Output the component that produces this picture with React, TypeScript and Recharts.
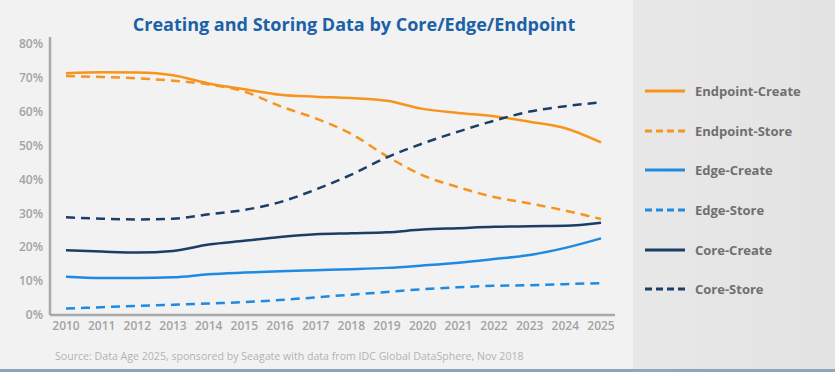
import { LineChart, Line, XAxis, YAxis } from "recharts";

const years = [
  "2010", "2011", "2012", "2013", "2014", "2015", "2016", "2017",
  "2018", "2019", "2020", "2021", "2022", "2023", "2024", "2025",
];

const endpointCreate = [71.3, 71.6, 71.5, 70.7, 68.3, 66.6, 65.0, 64.4, 64.0, 63.2, 60.8, 59.6, 58.6, 57.0, 55.1, 50.9];
const endpointStore = [70.5, 70.2, 69.8, 69.1, 68.0, 65.9, 61.6, 58.0, 53.4, 46.8, 41.2, 37.7, 34.8, 32.9, 30.8, 28.3];
const edgeCreate = [11.3, 10.9, 10.9, 11.1, 12.0, 12.5, 12.9, 13.2, 13.5, 13.9, 14.6, 15.4, 16.5, 17.7, 19.8, 22.6];
const edgeStore = [1.9, 2.3, 2.7, 3.0, 3.4, 3.8, 4.4, 5.2, 6.0, 6.8, 7.6, 8.2, 8.6, 8.8, 9.1, 9.4];
const coreCreate = [19.1, 18.7, 18.4, 18.9, 20.8, 21.9, 23.0, 23.8, 24.1, 24.4, 25.2, 25.6, 26.0, 26.2, 26.3, 27.2];
const coreStore = [28.8, 28.4, 28.2, 28.4, 29.7, 31.0, 33.3, 37.0, 41.4, 46.5, 50.6, 54.1, 57.3, 60.0, 61.6, 62.7];

const yTicks = [0, 10, 20, 30, 40, 50, 60, 70, 80];

const ORANGE = "#f7941d";
const BLUE = "#1e8ae2";
const NAVY = "#1c3e66";

const series = [
  { key: "Endpoint-Create", color: ORANGE, dashed: false },
  { key: "Endpoint-Store", color: ORANGE, dashed: true },
  { key: "Edge-Create", color: BLUE, dashed: false },
  { key: "Edge-Store", color: BLUE, dashed: true },
  { key: "Core-Create", color: NAVY, dashed: false },
  { key: "Core-Store", color: NAVY, dashed: true },
];

const data = years.map((year, i) => ({
  year,
  "Endpoint-Create": endpointCreate[i],
  "Endpoint-Store": endpointStore[i],
  "Edge-Create": edgeCreate[i],
  "Edge-Store": edgeStore[i],
  "Core-Create": coreCreate[i],
  "Core-Store": coreStore[i],
}));

const font = "'Open Sans', sans-serif";

// legend sits in the grey side panel, so it's plain html
const SideLegend = () => (
  <div style={{ position: "absolute", left: 644, top: 71 }}>
    {series.map((s) => (
      <div
        key={s.key}
        style={{ display: "flex", alignItems: "center", height: 39.7 }}
      >
        <svg width={42} height={6} style={{ marginRight: 9 }}>
          <line
            x1={1}
            y1={3}
            x2={41}
            y2={3}
            stroke={s.color}
            strokeWidth={3}
            strokeDasharray={s.dashed ? "7 4" : undefined}
          />
        </svg>
        <span
          style={{
            fontFamily: font,
            fontWeight: 700,
            fontSize: 13,
            color: "#6f6f6f",
          }}
        >
          {s.key}
        </span>
      </div>
    ))}
  </div>
);

export default function App() {
  return (
    <div
      style={{
        position: "relative",
        width: 835,
        height: 372,
        background: "#f2f2f2",
        overflow: "hidden",
        fontFamily: font,
      }}
    >
      <style>{"body{margin:0}"}</style>
      <div
        style={{
          position: "absolute",
          left: 633,
          top: 0,
          width: 202,
          height: 372,
          background: "linear-gradient(90deg, #e8e8e8, #e3e3e3)",
        }}
      />
      <div
        style={{
          position: "absolute",
          left: 0,
          top: 12,
          width: 708,
          textAlign: "center",
          fontSize: 18,
          fontWeight: 700,
          color: "#1b61a8",
        }}
      >
        Creating and Storing Data by Core/Edge/Endpoint
      </div>
      <div
        style={{
          position: "absolute",
          left: 55,
          top: 349,
          fontSize: 10.6,
          color: "#b2b2b2",
        }}
      >
        Source: Data Age 2025, sponsored by Seagate with data from IDC Global
        DataSphere, Nov 2018
      </div>
      <div
        style={{
          position: "absolute",
          left: 0,
          top: 369,
          width: 835,
          height: 3,
          background: "#8fa5b8",
        }}
      />
      <SideLegend />
      <div style={{ position: "absolute", left: 0, top: 0 }}>
        <LineChart
          width={835}
          height={372}
          data={data}
          margin={{ top: 37, right: 220, bottom: 27, left: 0 }}
        >
          <XAxis
            dataKey="year"
            padding={{ left: 16, right: 14 }}
            axisLine={{ stroke: "#a9a9a9", strokeWidth: 2.5 }}
            tickLine={false}
            tickSize={0}
            tickMargin={6}
            interval={0}
            height={30}
            tick={{ fill: "#a3a3a3", fontSize: 12, fontWeight: 600, fontFamily: font }}
          />
          <YAxis
            domain={[0, 82]}
            ticks={yTicks}
            tickFormatter={(v) => `${v}%`}
            width={50}
            axisLine={{ stroke: "#a9a9a9", strokeWidth: 2.5 }}
            tickLine={false}
            tickSize={0}
            tickMargin={7}
            tick={{ fill: "#a3a3a3", fontSize: 12, fontWeight: 600, fontFamily: font }}
          />
          {series.map((s) => (
            <Line
              key={s.key}
              type="monotone"
              dataKey={s.key}
              stroke={s.color}
              strokeWidth={2.5}
              strokeDasharray={s.dashed ? "9 6" : undefined}
              dot={false}
              activeDot={false}
              isAnimationActive={false}
            />
          ))}
        </LineChart>
      </div>
    </div>
  );
}
